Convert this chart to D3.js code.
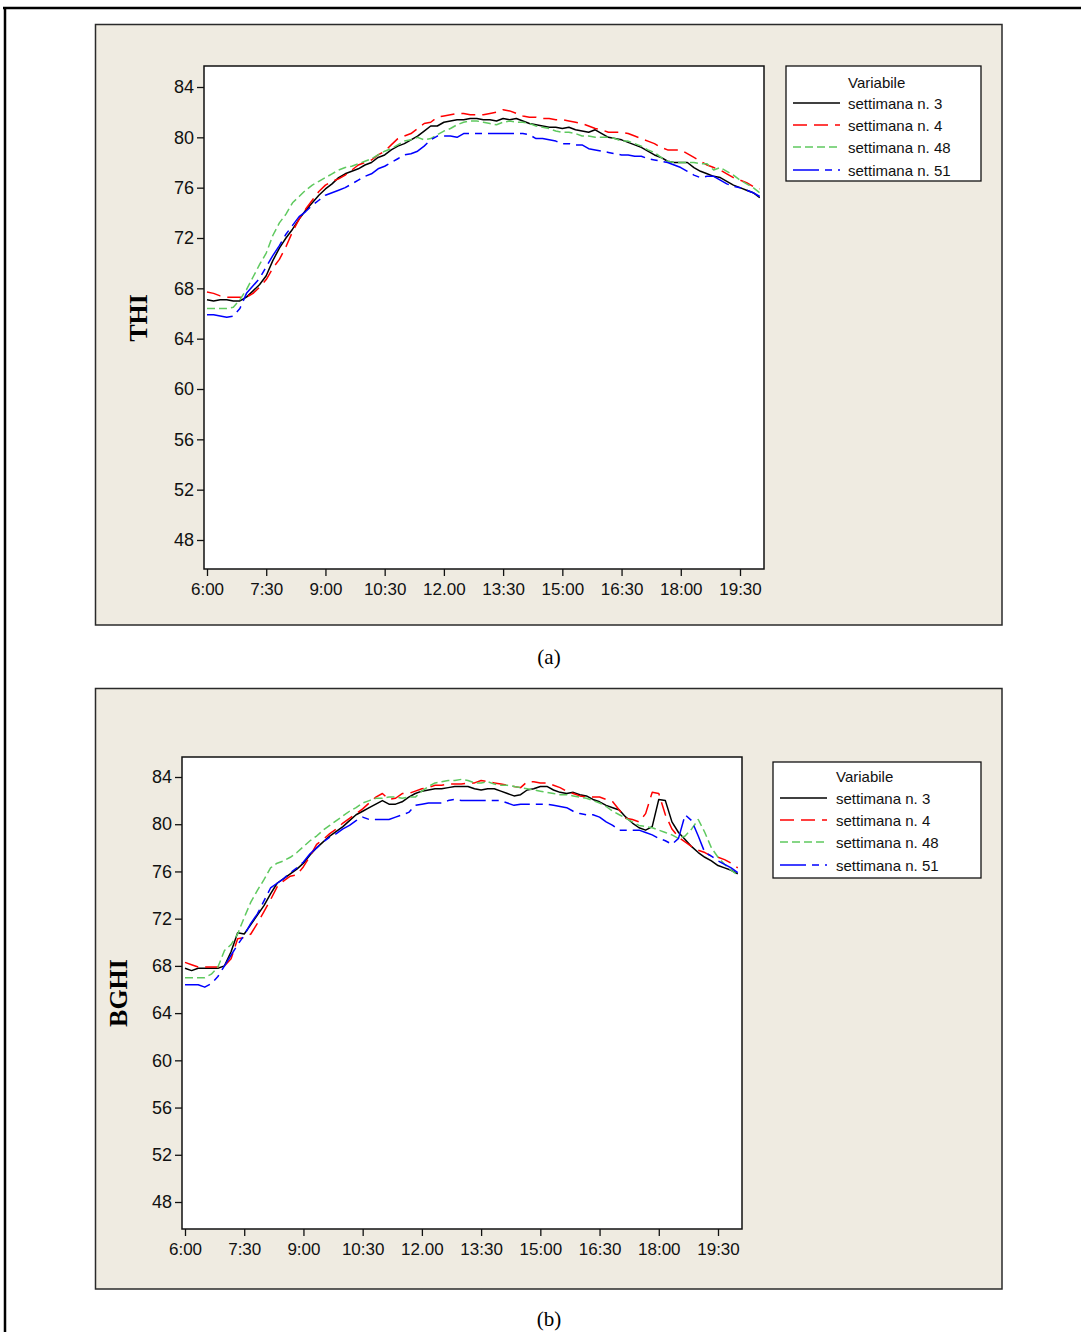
<!DOCTYPE html>
<html><head><meta charset="utf-8">
<script src="https://cdn.jsdelivr.net/npm/d3@7"></script>
<style>body{margin:0;background:#fff}svg{display:block}</style>
</head><body>
<script>
// ---- data (10-minute readings, 6:00 to 20:00) ----
const minutes = d3.range(0, 850, 10);
const tickValues = [0, 90, 180, 270, 360, 450, 540, 630, 720, 810];
const tickLabels = ["6:00","7:30","9:00","10:30","12.00","13:30","15:00","16:30","18:00","19:30"];
const yTicks = [48, 52, 56, 60, 64, 68, 72, 76, 80, 84];
const seriesNames = ["settimana n. 3","settimana n. 4","settimana n. 48","settimana n. 51"];

const thi_w3 = [67.1,67.0,67.1,67.1,67.0,67.0,67.3,67.8,68.3,69.0,
 70.2,71.2,72.0,72.7,73.5,74.2,74.8,75.4,75.9,76.3,
 76.8,77.1,77.3,77.5,77.8,78.0,78.4,78.6,79.0,79.3,
 79.5,79.8,80.1,80.5,80.9,80.9,81.2,81.3,81.4,81.4,
 81.5,81.5,81.4,81.4,81.3,81.5,81.4,81.5,81.3,81.1,
 81.0,80.9,80.8,80.8,80.7,80.8,80.6,80.5,80.4,80.6,
 80.3,80.0,79.9,79.8,79.6,79.4,79.2,78.9,78.6,78.4,
 78.1,78.0,78.0,78.0,77.6,77.3,77.1,76.9,76.8,76.5,
 76.2,76.0,75.8,75.6,75.2];
const thi_w4 = [67.7,67.6,67.4,67.3,67.3,67.3,67.3,67.6,68.1,68.7,
 69.6,70.3,71.3,72.5,73.5,74.3,75.0,75.7,76.2,76.5,
 76.7,77.0,77.4,77.8,78.0,78.2,78.6,78.9,79.4,79.9,
 80.1,80.3,80.7,81.1,81.2,81.6,81.7,81.8,81.9,81.9,
 81.8,81.8,81.8,81.9,82.0,82.2,82.1,81.9,81.7,81.6,
 81.6,81.5,81.5,81.4,81.4,81.3,81.2,81.1,80.9,80.7,
 80.6,80.4,80.4,80.4,80.3,80.1,79.9,79.7,79.5,79.2,
 79.0,79.0,79.0,78.7,78.4,78.1,77.8,77.6,77.4,77.1,
 76.8,76.6,76.4,76.1,75.9];
const thi_w48 = [66.4,66.4,66.4,66.4,66.5,67.1,67.9,68.9,69.9,70.8,
 72.2,73.2,73.9,74.8,75.3,75.8,76.2,76.5,76.8,77.1,
 77.4,77.6,77.7,77.9,78.1,78.3,78.6,78.9,79.1,79.4,
 79.7,79.8,80.0,79.8,79.9,80.2,80.5,80.7,81.0,81.2,
 81.3,81.3,81.2,81.1,81.0,81.2,81.3,81.2,81.2,81.1,
 80.9,80.8,80.7,80.5,80.4,80.4,80.3,80.1,80.1,80.0,
 80.0,80.0,79.9,79.7,79.7,79.5,79.3,79.0,78.8,78.4,
 78.1,78.0,78.0,78.0,78.0,77.9,77.9,77.4,77.6,77.3,
 77.0,76.6,76.3,76.0,75.6];
const thi_w51 = [65.9,65.9,65.8,65.7,65.8,66.4,67.6,68.2,68.8,69.7,
 70.6,71.4,72.3,73.0,73.7,74.1,74.6,75.0,75.4,75.6,
 75.8,76.0,76.3,76.6,76.9,77.1,77.5,77.7,78.0,78.3,
 78.6,78.7,78.9,79.3,79.8,80.1,80.1,80.1,80.0,80.3,
 80.3,80.3,80.3,80.3,80.3,80.3,80.3,80.3,80.3,80.2,
 79.9,79.9,79.8,79.7,79.5,79.5,79.4,79.4,79.1,79.0,
 78.9,78.8,78.7,78.6,78.6,78.5,78.5,78.3,78.2,78.1,
 78.0,77.8,77.6,77.3,77.0,76.8,76.9,76.9,76.6,76.3,
 76.1,76.0,75.8,75.6,75.3];

const bghi_w3 = [67.8,67.6,67.8,67.8,67.8,67.8,68.0,69.2,70.8,70.7,
 71.5,72.3,73.1,74.1,75.0,75.4,75.8,76.2,76.7,77.4,
 78.0,78.5,79.0,79.4,79.8,80.3,80.8,81.1,81.4,81.7,
 82.0,81.7,81.7,81.9,82.3,82.6,82.8,82.9,83.0,83.0,
 83.1,83.2,83.2,83.2,83.0,82.9,83.0,83.0,82.8,82.6,
 82.4,82.5,82.9,83.0,83.2,83.2,82.9,82.7,82.6,82.7,
 82.5,82.4,82.1,81.9,81.6,81.4,81.2,80.6,80.1,79.7,
 79.5,79.8,82.1,82.0,80.2,79.3,78.7,78.1,77.6,77.2,
 76.9,76.5,76.3,76.1,75.8];
const bghi_w4 = [68.3,68.1,67.9,67.9,67.9,67.9,68.0,68.6,70.3,70.4,
 70.7,71.6,72.6,73.6,74.7,75.2,75.6,75.7,76.4,77.3,
 78.3,78.7,79.2,79.6,80.1,80.5,80.9,81.3,81.8,82.3,
 82.6,82.1,82.2,82.6,82.6,82.8,83.0,83.1,83.3,83.3,
 83.4,83.4,83.4,83.5,83.5,83.7,83.6,83.5,83.4,83.3,
 83.2,83.1,83.6,83.6,83.5,83.5,83.3,83.1,82.8,82.6,
 82.4,82.3,82.3,82.3,82.1,81.9,81.2,80.5,80.4,80.2,
 80.9,82.7,82.6,80.8,79.6,78.9,78.5,78.1,77.8,77.6,
 77.3,77.2,77.0,76.7,76.3];
const bghi_w48 = [67.0,67.0,67.0,67.0,67.3,67.9,69.3,69.8,70.7,72.1,
 73.4,74.4,75.3,76.3,76.7,76.9,77.2,77.6,78.1,78.6,
 79.0,79.5,79.9,80.3,80.7,81.1,81.4,81.8,82.0,82.2,
 82.2,82.3,82.3,82.2,82.3,82.3,82.8,83.2,83.5,83.6,
 83.7,83.7,83.8,83.7,83.5,83.5,83.6,83.4,83.3,83.3,
 83.2,83.1,83.0,82.9,82.8,82.7,82.6,82.5,82.5,82.4,
 82.3,82.2,82.0,81.8,81.5,81.1,80.8,80.5,80.2,79.9,
 79.8,79.7,79.5,79.3,79.1,78.8,79.0,79.6,80.4,79.3,
 78.0,77.2,76.6,76.1,75.7];
const bghi_w51 = [66.4,66.4,66.4,66.2,66.5,67.1,68.0,68.9,69.8,70.6,
 71.6,72.4,73.5,74.6,75.0,75.4,75.9,76.3,76.8,77.5,
 78.0,78.5,78.9,79.2,79.6,79.9,80.3,80.6,80.4,80.4,
 80.4,80.4,80.6,80.8,81.0,81.6,81.7,81.8,81.8,81.8,
 82.0,82.1,82.0,82.0,82.0,82.0,82.0,82.0,82.0,81.8,
 81.6,81.7,81.7,81.7,81.7,81.7,81.6,81.5,81.4,81.1,
 80.9,80.8,80.8,80.6,80.2,79.9,79.5,79.5,79.5,79.5,
 79.3,79.1,78.8,78.6,78.3,78.8,80.8,80.3,79.0,77.6,
 77.3,76.9,76.6,76.3,75.9];

// ---- styles ----
const colors = ["#000000", "#ff0000", "#5fc95f", "#0000ff"];
const dashes = [null, "14,7", "8,4", "26,6,7,6"];

const W = 1081, H = 1332;
const svg = d3.select("body").append("svg").attr("width", W).attr("height", H)
  .style("background", "#fff");

// outer page border
svg.append("line").attr("x1", 3).attr("x2", W).attr("y1", 8).attr("y2", 8)
  .attr("stroke", "#000").attr("stroke-width", 2.5);
svg.append("line").attr("x1", 5).attr("x2", 5).attr("y1", 8).attr("y2", H)
  .attr("stroke", "#000").attr("stroke-width", 2.5);

const tickFont = "'Liberation Sans', Arial, sans-serif";

function drawPanel(cfg) {
  const g = svg.append("g");
  g.append("rect").attr("x", cfg.panel[0]).attr("y", cfg.panel[1])
    .attr("width", cfg.panel[2]).attr("height", cfg.panel[3])
    .attr("fill", "#efebe1").attr("stroke", "#2a2a2a").attr("stroke-width", 1.5);

  const p = cfg.plot; // x, y, w, h
  g.append("rect").attr("x", p[0]).attr("y", p[1]).attr("width", p[2]).attr("height", p[3])
    .attr("fill", "#fff");

  const x = d3.scaleLinear().domain([0, 810]).range(cfg.xr);
  const y = d3.scaleLinear().domain([48, 84]).range(cfg.yr);

  const clipId = "clip" + cfg.id;
  g.append("clipPath").attr("id", clipId).append("rect")
    .attr("x", p[0]).attr("y", p[1]).attr("width", p[2]).attr("height", p[3]);

  const line = d3.line().x((d, i) => x(minutes[i])).y(d => y(d));
  const lg = g.append("g").attr("clip-path", `url(#${clipId})`);
  cfg.series.forEach((s, k) => {
    lg.append("path").datum(s).attr("d", line)
      .attr("fill", "none").attr("stroke", colors[k]).attr("stroke-width", 1.5)
      .attr("stroke-dasharray", dashes[k]).attr("stroke-linejoin", "round");
  });

  // plot border
  g.append("rect").attr("x", p[0]).attr("y", p[1]).attr("width", p[2]).attr("height", p[3])
    .attr("fill", "none").attr("stroke", "#111").attr("stroke-width", 1.5);

  // y axis
  const ya = g.append("g").attr("transform", `translate(${p[0]},0)`)
    .call(d3.axisLeft(y).tickValues(yTicks).tickSize(7).tickPadding(3).tickFormat(d3.format("d")));
  ya.select(".domain").remove();
  ya.selectAll("line").attr("stroke", "#111").attr("stroke-width", 1.3);
  ya.selectAll("text").attr("font-family", tickFont).attr("font-size", 18).attr("fill", "#111");

  // x axis
  const xa = g.append("g").attr("transform", `translate(0,${p[1] + p[3]})`)
    .call(d3.axisBottom(x).tickValues(tickValues).tickSize(7).tickPadding(7)
      .tickFormat((d, i) => tickLabels[i]));
  xa.select(".domain").remove();
  xa.selectAll("line").attr("stroke", "#111").attr("stroke-width", 1.3);
  xa.selectAll("text").attr("font-family", tickFont).attr("font-size", 17).attr("fill", "#111");

  // y label
  g.append("text").attr("transform", `translate(${cfg.ylab[0]},${cfg.ylab[1]}) rotate(-90)`)
    .attr("text-anchor", "middle").attr("dominant-baseline", "central")
    .attr("font-family", "'Liberation Serif', 'Times New Roman', serif")
    .attr("font-weight", "bold").attr("font-size", 26).text(cfg.ylabel);

  // legend
  const L = cfg.legend;
  g.append("rect").attr("x", L.x).attr("y", L.y).attr("width", L.w).attr("height", L.h)
    .attr("fill", "#fff").attr("stroke", "#111").attr("stroke-width", 1.3);
  g.append("text").attr("x", L.textX).attr("y", L.titleY).attr("dominant-baseline", "central")
    .attr("font-family", tickFont).attr("font-size", 15).attr("fill", "#111").text("Variabile");
  seriesNames.forEach((n, k) => {
    g.append("line").attr("x1", L.lx1).attr("x2", L.lx2).attr("y1", L.rows[k]).attr("y2", L.rows[k])
      .attr("stroke", colors[k]).attr("stroke-width", 1.5).attr("stroke-dasharray", dashes[k]);
    g.append("text").attr("x", L.textX).attr("y", L.rows[k]).attr("dominant-baseline", "central")
      .attr("font-family", tickFont).attr("font-size", 15).attr("fill", "#111").text(n);
  });

  // caption
  svg.append("text").attr("x", 549).attr("y", cfg.capY).attr("text-anchor", "middle")
    .attr("font-family", "'Liberation Serif', 'Times New Roman', serif")
    .attr("font-size", 21).text(cfg.caption);
}

drawPanel({
  id: "a", panel: [95.5, 24.5, 906.5, 600.5], plot: [204, 66, 560, 503],
  xr: [207, 740], yr: [540, 87], series: [thi_w3, thi_w4, thi_w48, thi_w51],
  ylabel: "THI", ylab: [138, 318],
  legend: { x: 786, y: 66, w: 195, h: 115, lx1: 793, lx2: 840, textX: 848,
            titleY: 82, rows: [103, 125, 147, 170] },
  caption: "(a)", capY: 664
});
drawPanel({
  id: "b", panel: [95.5, 688.5, 906.5, 600.5], plot: [182, 757, 560, 472],
  xr: [185, 718], yr: [1202, 777], series: [bghi_w3, bghi_w4, bghi_w48, bghi_w51],
  ylabel: "BGHI", ylab: [118, 993],
  legend: { x: 773, y: 762, w: 208, h: 116, lx1: 780, lx2: 827, textX: 836,
            titleY: 776, rows: [798, 820, 842, 865] },
  caption: "(b)", capY: 1326
});
</script>
</body></html>
